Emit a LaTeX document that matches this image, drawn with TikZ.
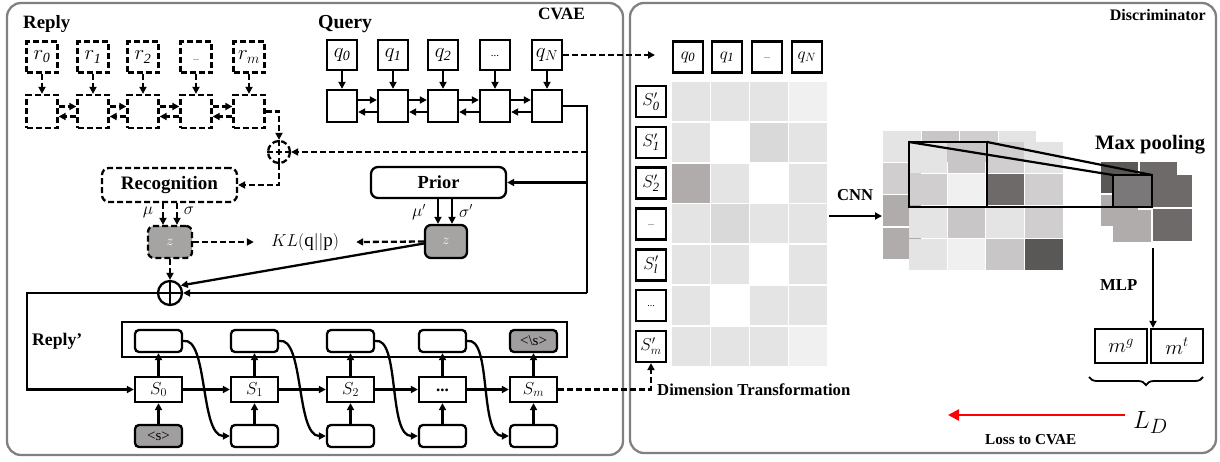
\documentclass[tikz,border=0pt]{standalone}
\usepackage{fontspec}
\setmainfont{Liberation Serif}
\usetikzlibrary{arrows.meta,decorations.pathreplacing,calc}
\definecolor{panelgray}{RGB}{128,128,128}
\definecolor{zgray}{RGB}{166,163,163}
\definecolor{tokgray}{RGB}{160,158,158}
\definecolor{g1}{RGB}{228,228,228}
\definecolor{g2}{RGB}{240,240,240}
\definecolor{g3}{RGB}{217,217,217}
\definecolor{d1}{RGB}{176,172,172}
\definecolor{m1}{RGB}{200,198,198}
\definecolor{m2}{RGB}{208,206,206}
\definecolor{k1}{RGB}{110,106,106}
\definecolor{k2}{RGB}{90,87,87}
\definecolor{k3}{RGB}{122,120,120}
\begin{document}
\begin{tikzpicture}[x=1pt,y=-1pt,
  lw/.style={line width=2.3pt},
  arr/.style={lw,-{Triangle[length=7pt,width=7pt]}},
  dsh/.style={dash pattern=on 6pt off 3pt},
  panel/.style={draw=panelgray,line width=2.3pt,rounded corners=14pt},
  lab/.style={font=\fontsize{#1}{#1}\selectfont\bfseries,inner sep=0pt},
  dbox/.style={draw,lw,dsh,minimum width=31pt,minimum height=31pt,inner sep=0pt,font=\fontsize{20}{20}\selectfont},
  qbox/.style={draw,lw,minimum width=30pt,minimum height=30pt,inner sep=0pt,font=\fontsize{20}{20}\selectfont},
  obox/.style={draw,lw,rounded corners=4pt,minimum width=47pt,minimum height=22pt,inner sep=0pt,font=\fontsize{15}{15}\selectfont},
  stbox/.style={draw,lw,minimum width=47pt,minimum height=25pt,inner sep=0pt,font=\fontsize{17}{17}\selectfont},
  discbox/.style={draw,line width=2.6pt,minimum width=30pt,minimum height=31pt,inner sep=0pt,font=\fontsize{18}{18}\selectfont},
]
\useasboundingbox (0,0) rectangle (1220,461);

% panels
\draw[panel] (7,3) rectangle (623,455);
\draw[panel] (630,3) rectangle (1216,453);
\node[lab=17.3,anchor=base west] (tcvae) at (538,19) {CVAE};
\node[lab=16,anchor=base east] (tdisc) at (1206,20) {Discriminator};

% Reply encoder
\node[lab=18.8,anchor=base west] (treply) at (23,28) {Reply};
\foreach \i/\x/\t in {0/42/{$r_{\mathit{0}}$},1/93/{$r_{\mathit{1}}$},2/143/{$r_{\mathit{2}}$},3/196/{\raisebox{-7pt}{\fontsize{8}{8}\selectfont...}},4/249/{$r_m$}} {
  \node[dbox] (r\i) at (\x,57) {\t};
  \node[dbox,minimum height=33pt] (re\i) at (\x,111.5) {};
  \draw[arr,dsh] (r\i) -- (re\i);
}
\foreach \i/\j in {0/1,1/2,2/3,3/4} {
  \draw[arr,dsh] ($(re\i.east)+(0,-5)$) -- ($(re\j.west)+(0,-5)$);
  \draw[arr,dsh] ($(re\j.west)+(0,5)$) -- ($(re\i.east)+(0,5)$);
}

% Query encoder
\node[lab=19.8,anchor=base west] (tquery) at (318,28) {Query};
\foreach \i/\x/\t in {0/342/{$q_{\mathit{0}}$},1/393/{$q_{\mathit{1}}$},2/443/{$q_{\mathit{2}}$},3/495/{\raisebox{-3pt}{\fontsize{11}{11}\selectfont...}},4/547/{$q_N$}} {
  \node[qbox] (q\i) at (\x,55) {\t};
  \node[qbox,minimum height=32pt] (qe\i) at (\x,106) {};
  \draw[arr] (q\i) -- (qe\i);
}
\foreach \i/\j in {0/1,1/2,2/3,3/4} {
  \draw[arr] ($(qe\i.east)+(0,-6)$) -- ($(qe\j.west)+(0,-6)$);
  \draw[arr] ($(qe\j.west)+(0,6)$) -- ($(qe\i.east)+(0,6)$);
}

% combination circles
\node[circle,draw,lw,dsh,minimum size=22pt,inner sep=0pt] (c1) at (279,152) {};
\draw[lw,dsh] (c1.north) -- (c1.south) (c1.west) -- (c1.east);
\node[circle,draw,lw,minimum size=24pt,inner sep=0pt] (c2) at (170,293) {};
\draw[lw] (c2.north) -- (c2.south) (c2.west) -- (c2.east);

% Recognition / Prior
\node[draw,lw,dsh,rounded corners=7pt,minimum width=135pt,minimum height=34pt,inner sep=0pt,font=\fontsize{19}{19}\selectfont\bfseries] (rec) at (169.5,185) {Recognition};
\node[draw,lw,rounded corners=7pt,minimum width=135pt,minimum height=31pt,inner sep=0pt,font=\fontsize{18.4}{18.4}\selectfont\bfseries] (prior) at (438.5,182.5) {Prior};
\node[draw,lw,dsh,fill=zgray,rounded corners=6pt,minimum width=44pt,minimum height=32pt,inner sep=0pt,font=\fontsize{15}{15}\selectfont] (z) at (170,242) {\textcolor{white}{$z$}};
\node[draw,lw,fill=zgray,rounded corners=6pt,minimum width=42pt,minimum height=33pt,inner sep=0pt,font=\fontsize{15}{15}\selectfont] (zp) at (446,241.5) {\textcolor{white}{$z$}};
\node[inner xsep=17pt,inner ysep=0pt,font=\fontsize{19}{19}\selectfont] (kl) at (305,242) {$KL(\mathrm{q}||\mathrm{p})$};

% connectors encoder side
\coordinate (vt) at (587,106);
\coordinate (vb) at (587,293);
\draw[arr,dsh] (re4.east) -| (c1.north);
\draw[lw] (qe4.east) -- (vt) -- (vb);
\draw[arr,dsh] (c1.east -| vt) -- (c1.east);
\draw[arr] (prior.east -| vt) -- (prior.east);
\draw[arr] (vb) -- (c2.east);
\draw[arr,dsh] (c1.south) |- (rec.east);
\coordinate (za) at ($(z.north)+(-7,0)$);
\coordinate (zb) at ($(z.north)+(7,0)$);
\draw[arr,dsh] (za |- rec.south) -- (za);
\draw[arr,dsh] (zb |- rec.south) -- (zb);
\coordinate (pa) at ($(zp.north)+(-8,0)$);
\coordinate (pb) at ($(zp.north)+(6,0)$);
\draw[arr] (pa |- prior.south) -- (pa);
\draw[arr] (pb |- prior.south) -- (pb);
\node[font=\fontsize{16}{16}\selectfont,inner sep=0pt] (mu) at (148,212) {$\mu$};
\node[font=\fontsize{16}{16}\selectfont,inner sep=0pt] (sig) at (189,211) {$\sigma$};
\node[font=\fontsize{16}{16}\selectfont,inner sep=0pt] (mup) at (419,212) {$\mu'$};
\node[font=\fontsize{16}{16}\selectfont,inner sep=0pt] (sigp) at (466,211) {$\sigma'$};
\draw[arr,dsh] (z.east) -- (kl.west);
\draw[arr,dsh] (zp.west) -- (kl.east);
\draw[arr] ($(zp.west)+(0,2)$) -- (c2.35);
\draw[arr,dsh] (z.south) -- (c2.north);
\coordinate (lc) at (27,293);

% Decoder
\node[lab=17.7,anchor=base west] (treplyp) at (32,345) {Reply’};
\node[draw,line width=2.4pt,minimum width=445pt,minimum height=35pt,inner sep=0pt] (rp) at (344.5,339.5) {};
\node[obox] (o0) at (158.5,341) {};
\node[obox] (o1) at (254.5,341) {};
\node[obox] (o2) at (350.5,341) {};
\node[obox] (o3) at (442.5,341) {};
\node[obox,fill=tokgray] (o4) at (533.5,341) {\textless\textbackslash s\textgreater};
\node[stbox] (s0) at (158.5,389.5) {$S_0$};
\node[stbox] (s1) at (254.5,389.5) {$S_1$};
\node[stbox] (s2) at (350.5,389.5) {$S_2$};
\node[stbox] (s3) at (442.5,389.5) {\raisebox{-5pt}{\bfseries...}};
\node[stbox] (s4) at (533.5,389.5) {$S_m$};
\node[obox,fill=tokgray] (b0) at (158.5,436) {\textless s\textgreater};
\node[obox] (b1) at (254.5,436) {};
\node[obox] (b2) at (350.5,436) {};
\node[obox] (b3) at (442.5,436) {};
\node[obox] (b4) at (533.5,436) {};
\foreach \i in {0,...,4} {
  \draw[arr] (b\i) -- (s\i);
  \draw[arr] (s\i) -- (o\i);
}
\foreach \i/\j in {0/1,1/2,2/3,3/4} {
  \draw[arr] (s\i) -- (s\j);
  \draw[arr] (o\i.east) .. controls +(25,-5) and +(-30,0) .. (b\j.west);
}
\draw[arr] (c2.west) -- (lc) |- (s0.west);

% Discriminator: matrix
\foreach \i/\x/\t in {0/688/{$q_{\mathit{0}}$},1/727/{$q_{\mathit{1}}$},2/767/{\raisebox{-4pt}{\fontsize{8}{8}\selectfont...}},3/807/{$q_N$}} {
  \node[discbox] (dq\i) at (\x,57) {\t};
}
\coordinate (qt) at (655,55);
\draw[arr,dsh] (q4.east) -- (qt);
\foreach \c/\r/\col in {0/0/g1,1/0/g1,2/0/g1,3/0/g2,
  0/1/g1,1/1/white,2/1/g3,3/1/g1,
  0/2/d1,1/2/g1,2/2/white,3/2/g1,
  0/3/g1,1/3/g3,2/3/g1,3/3/g1,
  0/4/g1,1/4/g1,2/4/white,3/4/g1,
  0/5/g1,1/5/white,2/5/g1,3/5/g1,
  0/6/g1,1/6/g1,2/6/g1,3/6/g2} {
  \fill[\col] ({672+39*\c},{82+40.8*\r}) rectangle +(38,39);
}
\foreach \i/\t in {0/{$S_{\mathit{0}}'$},1/{$S_{\mathit{1}}'$},2/{$S_{\mathit{2}}'$},3/{\raisebox{-4pt}{\fontsize{8}{8}\selectfont...}},4/{$S_{\mathit{l}}'$},5/{\raisebox{-2pt}{\fontsize{10}{10}\selectfont...}},6/{$S_{m}'$}} {
  \node[discbox] (ds\i) at (651,{101.5+40.8*\i}) {\t};
}
\draw[arr,dsh] (s4.east) -| (ds6.south);
\node[lab=16.7,anchor=base west] (tdim) at (657,395) {Dimension Transformation};

% CNN
\node[lab=16.6,anchor=base west] (tcnn) at (837,200) {CNN};
\coordinate (ca) at (829,216);
\coordinate (cb) at (882,216);
\draw[arr] (ca) -- (cb);
% back feature map
\foreach \c/\r/\col in {0/0/g1,1/0/m1,2/0/m2,3/0/g1,
  0/1/m2,0/2/d1,0/3/d1} {
  \fill[\col] ({883+38.5*\c},{131+32.2*\r}) rectangle +(37.5,31);
}
% front feature map
\foreach \c/\r/\col in {0/0/g1,1/0/m1,2/0/m2,3/0/g1,
  0/1/m2,1/1/g2,2/1/k1,3/1/m2,
  0/2/g1,1/2/m1,2/2/g1,3/2/m2,
  0/3/g1,1/3/g2,2/3/m1,3/3/k2} {
  \fill[\col] ({909+38.7*\c},{142+32.3*\r}) rectangle +(37.5,31);
}
% pooled maps
\fill[k2] (1101,162) rectangle +(37,31);
\fill[k1] (1140,162) rectangle +(37,31);
\fill[d1] (1101,195) rectangle +(37,31);
\fill[k3] (1113,175) rectangle +(38,32);
\fill[k1] (1153,175) rectangle +(39,32);
\fill[d1] (1113,210) rectangle +(38,32);
\fill[k1] (1153,209) rectangle +(39,32);
\draw[line width=2.4pt] (909,142) rectangle (987,207);
\draw[line width=2.2pt] (1113,175) rectangle (1152,207);
\draw[line width=2.2pt] (909,142) -- (1113,175);
\draw[line width=2.2pt] (987,142) -- (1152,175);
\draw[line width=2.2pt] (987,207) -- (1113,207);
\node[lab=20.5,anchor=base west] (tmax) at (1095,149) {Max pooling};

% MLP
\node[lab=16.7,anchor=base west] (tmlp) at (1100,290) {MLP};
\coordinate (ma) at (1153,248);
\node[draw,lw,minimum width=52pt,minimum height=34pt,inner sep=0pt,font=\fontsize{22}{22}\selectfont] (mg) at (1121,346) {$m^g$};
\node[draw,lw,minimum width=52pt,minimum height=34pt,inner sep=0pt,font=\fontsize{22}{22}\selectfont] (mt) at (1177,346) {$m^t$};
\draw[arr] (ma) -- (ma |- mg.north);
\draw[line width=1.8pt,decorate,decoration={brace,mirror,amplitude=8pt}] (1089,377) -- (1203,377);
\node[font=\fontsize{32}{32}\selectfont,inner sep=0pt,anchor=base west] (ld) at (1133,428) {$L_D$};
\coordinate (la) at (948,415);
\draw[red,line width=2.4pt,-{Triangle[length=11pt,width=11pt]},shorten <=8pt] (ld.west |- la) -- (la);
\node[lab=15.2,anchor=base west] (tloss) at (985,444) {Loss to CVAE};
\end{tikzpicture}
\end{document}
